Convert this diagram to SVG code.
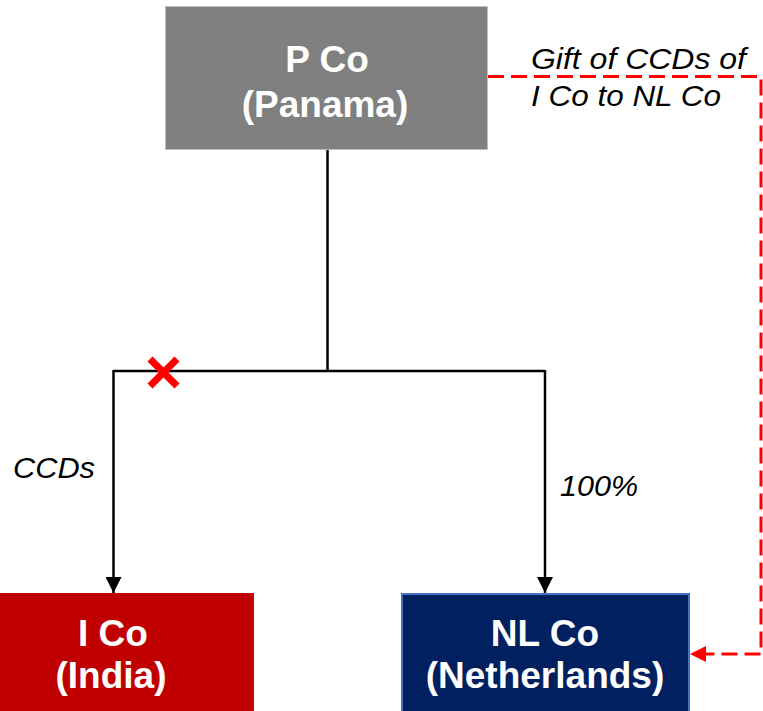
<svg xmlns="http://www.w3.org/2000/svg" width="763" height="711" viewBox="0 0 763 711">
<defs>
<style>
.lbl{font-family:"Liberation Sans",Arial,sans-serif;font-weight:bold;font-size:37px;fill:#fff;text-anchor:middle}
.it{font-family:"Liberation Sans",Arial,sans-serif;font-style:italic;font-size:29px;fill:#000}
.ln{stroke:#000;stroke-width:2.5;fill:none}
.rd{stroke:#ff0000;stroke-width:3;fill:none;stroke-dasharray:16 7}
</style>
<marker id="ab" viewBox="0 0 16 16" refX="16" refY="8" markerWidth="16" markerHeight="16" markerUnits="userSpaceOnUse" orient="auto"><path d="M0,0 L16,8 L0,16 Z" fill="#000"/></marker>
<marker id="ar" viewBox="0 0 16 16" refX="16" refY="8" markerWidth="16" markerHeight="16" markerUnits="userSpaceOnUse" orient="auto"><path d="M0,0 L16,8 L0,16 Z" fill="#ff0000"/></marker>
</defs>
<rect width="763" height="711" fill="#fff"/>
<g id="connectors">
<path class="ln" d="M327.5,150 V371"/>
<path class="ln" d="M113.5,371 H545"/>
<path class="ln" d="M113.5,370 V593" marker-end="url(#ab)"/>
<path class="ln" d="M545,370 V593" marker-end="url(#ab)"/>
<path class="rd" d="M488,76.5 H761 V654 H705"/>
<path d="M705,654 H690" stroke="none" marker-end="url(#ar)"/>
<g id="cross" stroke="#ff0000" stroke-width="7">
<line x1="150" y1="359" x2="177" y2="386"/>
<line x1="177" y1="359" x2="150" y2="386"/>
</g>
<text class="it" x="13" y="478" textLength="82" lengthAdjust="spacingAndGlyphs">CCDs</text>
<text class="it" x="560" y="496" textLength="78" lengthAdjust="spacingAndGlyphs">100%</text>
<text class="it" x="531" y="69" textLength="215" lengthAdjust="spacingAndGlyphs">Gift of CCDs of</text>
<text class="it" x="531" y="106" textLength="190" lengthAdjust="spacingAndGlyphs">I Co to NL Co</text>
</g>
<g id="pco">
<rect x="165.5" y="6.5" width="322" height="143" fill="#808080" stroke="#bfbfbf" stroke-width="1"/>
<text class="lbl" x="327" y="72">P Co</text>
<text class="lbl" x="325" y="117">(Panama)</text>
</g>
<g id="ico">
<rect x="0" y="593" width="254" height="118" fill="#c00000"/>
<text class="lbl" x="113" y="646">I Co</text>
<text class="lbl" x="111" y="688">(India)</text>
</g>
<g id="nlco">
<rect x="402" y="594" width="287" height="118" fill="#002060" stroke="#4472c4" stroke-width="2"/>
<text class="lbl" x="545" y="646">NL Co</text>
<text class="lbl" x="545" y="688">(Netherlands)</text>
</g>
</svg>
